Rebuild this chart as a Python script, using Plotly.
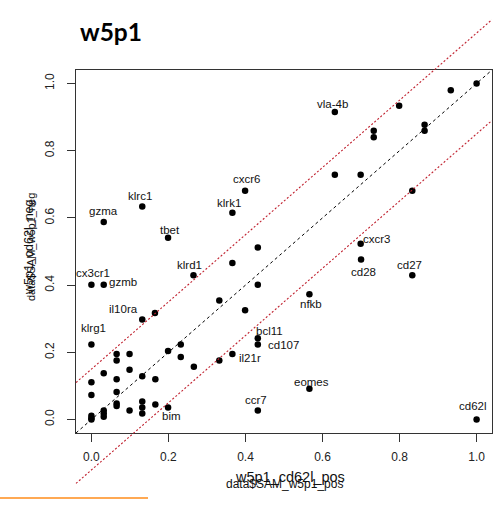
import plotly.graph_objects as go

# ---------------- data ----------------
labels = ["gzma", "klrc1", "tbet", "cxcr6", "klrk1", "vla-4b", "cxcr3", "cd28", "cd27",
          "nfkb", "eomes", "cd62l", "cx3cr1", "gzmb", "klrd1", "il10ra", "klrg1",
          "bcl11", "cd107", "il21r", "ccr7", "bim"]
lab_x = [0.032, 0.132, 0.199, 0.399, 0.366, 0.632, 0.699, 0.700, 0.833,
         0.566, 0.566, 1.000, 0.000, 0.032, 0.265, 0.132, 0.000,
         0.432, 0.432, 0.366, 0.432, 0.199]
lab_y = [0.588, 0.634, 0.541, 0.681, 0.615, 0.915, 0.523, 0.476, 0.429,
         0.373, 0.092, 0.000, 0.401, 0.401, 0.429, 0.298, 0.223,
         0.242, 0.223, 0.195, 0.027, 0.036]

other_x = [0.933, 1.000, 0.799, 0.865, 0.865, 0.733, 0.733, 0.632, 0.699, 0.833,
           0.432, 0.366, 0.432, 0.332, 0.399, 0.165, 0.199, 0.232, 0.232, 0.266,
           0.332, 0.0655, 0.0655, 0.099, 0.032, 0.099, 0.132, 0.166, 0.0655, 0.000,
           0.000, 0.0655, 0.0655, 0.0655, 0.099, 0.132, 0.132, 0.132, 0.166, 0.032,
           0.032, 0.032, 0.000, 0.000, 0.000]
other_y = [0.980, 1.000, 0.934, 0.877, 0.859, 0.859, 0.840, 0.728, 0.728, 0.681,
           0.512, 0.466, 0.401, 0.354, 0.325, 0.317, 0.204, 0.223, 0.186, 0.157,
           0.176, 0.195, 0.176, 0.195, 0.138, 0.148, 0.129, 0.120, 0.120, 0.111,
           0.073, 0.082, 0.048, 0.040, 0.027, 0.054, 0.036, 0.018, 0.045, 0.027,
           0.018, 0.008, 0.011, 0.004, 0.000]

band = 0.15
x_ticks = [0.0, 0.2, 0.4, 0.6, 0.8, 1.0]
y_ticks = [0.0, 0.2, 0.4, 0.6, 0.8, 1.0]

# ---------------- styling ----------------
W, H = 494, 507
ML, MR, MT, MB = 76, 2, 70, 74
XR = [-0.04, 1.04]
YR = [-0.04, 1.04]
PW = W - ML - MR
PH = H - MT - MB
FONT = "Liberation Sans, Arial, sans-serif"

# label offsets in pixels (dx, dy up)
lab_off = {
    "gzma": (0, 11), "klrc1": (-2, 10), "tbet": (2, 8), "cxcr6": (1, 12), "klrk1": (-3, 10),
    "vla-4b": (-2, 8), "cxcr3": (16, 5), "cd28": (2, -12), "cd27": (-3, 10), "nfkb": (2, -10),
    "eomes": (2, 7), "cd62l": (-4, 14), "cx3cr1": (2, 12), "gzmb": (19, 3), "klrd1": (-4, 10),
    "il10ra": (-19, 10), "klrg1": (2, 17), "bcl11": (12, 7), "cd107": (26, 0),
    "il21r": (18, -4), "ccr7": (-2, 10), "bim": (3, -9),
}


def dx2paper(x):
    return (x - XR[0]) / (XR[1] - XR[0])


def dy2paper(y):
    return (y - YR[0]) / (YR[1] - YR[0])


def px2paper_x(px):
    return (px - ML) / PW


def py2paper_y(py):
    return (H - MB - py) / PH


fig = go.Figure()

fig.add_trace(go.Scatter(
    x=other_x + lab_x, y=other_y + lab_y, mode="markers",
    marker=dict(color="black", size=6.5, line=dict(width=0)),
    hoverinfo="skip", showlegend=False))

shapes = []
# identity line (clipped to plot)
shapes.append(dict(type="line", xref="x", yref="y", x0=XR[0], y0=XR[0], x1=XR[1], y1=XR[1],
                   line=dict(color="black", width=1, dash="3px,3px"), layer="below"))
# +-band lines drawn in paper coords (extend beyond frame vertically)
for off in (band, -band):
    shapes.append(dict(type="line", xref="paper", yref="paper",
                       x0=dx2paper(XR[0]), y0=dy2paper(XR[0] + off),
                       x1=dx2paper(XR[1]), y1=dy2paper(XR[1] + off),
                       line=dict(color="#C0202E", width=1.1, dash="2px,2px"), layer="above"))
# orange stray line at bottom left
shapes.append(dict(type="line", xref="paper", yref="paper",
                   x0=px2paper_x(0), y0=py2paper_y(498), x1=px2paper_x(148), y1=py2paper_y(498),
                   line=dict(color="#FF8C1A", width=1.5)))

annotations = []
for name, x, y in zip(labels, lab_x, lab_y):
    dx, dy = lab_off[name]
    annotations.append(dict(x=x, y=y, xref="x", yref="y", text=name, showarrow=False,
                            xshift=dx, yshift=dy, font=dict(family=FONT, size=11.5, color="#111")))

# overlapping axis titles
annotations += [
    dict(x=px2paper_x(290), y=py2paper_y(477), xref="paper", yref="paper", text="w5p1_cd62l_pos",
         showarrow=False, xanchor="center", yanchor="middle", font=dict(family=FONT, size=14.5, color="#111")),
    dict(x=px2paper_x(284), y=py2paper_y(484), xref="paper", yref="paper", text="data$SAM_w5p1_pos",
         showarrow=False, xanchor="center", yanchor="middle", font=dict(family=FONT, size=12, color="#111")),
    dict(x=px2paper_x(29), y=py2paper_y(247), xref="paper", yref="paper", text="w5p1_cd62l_neg",
         showarrow=False, textangle=-90, xanchor="center", yanchor="middle",
         font=dict(family=FONT, size=12.5, color="#111")),
    dict(x=px2paper_x(31), y=py2paper_y(247), xref="paper", yref="paper", text="data$SAM_w5p1_neg",
         showarrow=False, textangle=-90, xanchor="center", yanchor="middle",
         font=dict(family=FONT, size=11, color="#111")),
]

axis_common = dict(showgrid=False, zeroline=False, showline=True, linecolor="#333", linewidth=1,
                   mirror=True, ticks="outside", ticklen=8, tickcolor="#333", tickwidth=1,
                   tickfont=dict(family=FONT, size=12, color="#222"))

fig.update_layout(
    width=W, height=H,
    margin=dict(l=ML, r=MR, t=MT, b=MB),
    paper_bgcolor="white", plot_bgcolor="white",
    title=dict(text="<b>w5p1</b>", x=80 / W, xref="container", xanchor="left",
               y=1 - 32 / H, yref="container", yanchor="middle",
               font=dict(family="Lato, sans-serif", size=24.5, color="black")),
    xaxis=dict(range=XR, tickvals=x_ticks, ticktext=[f"{v:.1f}" for v in x_ticks],
               ticklabelstandoff=5, **axis_common),
    yaxis=dict(range=YR, tickvals=y_ticks, ticktext=[f"{v:.1f}" for v in y_ticks],
               tickangle=-90, ticklabelstandoff=8, **axis_common),
    shapes=shapes, annotations=annotations, showlegend=False,
)

fig.write_html("out.html")
